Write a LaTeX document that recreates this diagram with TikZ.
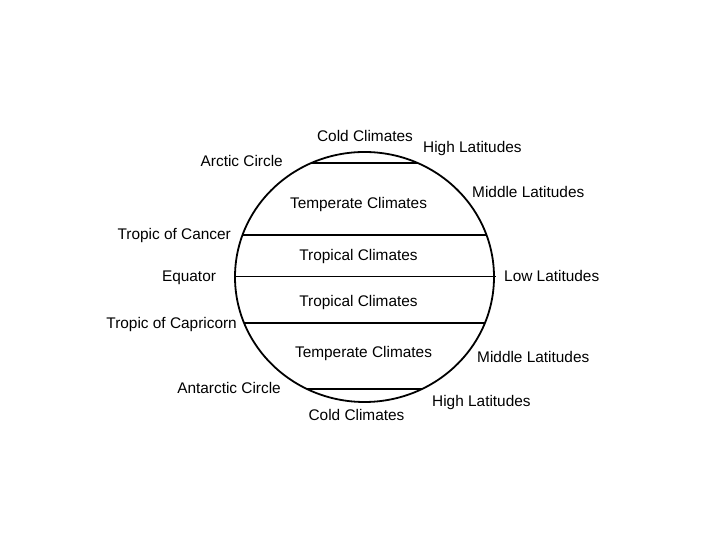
\documentclass[tikz,border=0pt]{standalone}
\usepackage{fontspec}
\setmainfont{Liberation Sans}
\usepackage{tikz}
\usetikzlibrary{positioning, calc}
\tikzset{
    zonelabel/.style={font=\fontsize{15.4}{18}\selectfont, inner sep=0pt},
    zoneline/.style={line width=1.8pt},
}

\begin{document}
\begin{tikzpicture}[x=1pt, y=1pt]
    \useasboundingbox (0,0) rectangle (720,540);
    \coordinate (globe) at (364.5,263);

    % Outline of the globe
    \draw [zoneline] (globe) ellipse [x radius=129.5pt, y radius=125pt];

    % Polar circles and tropics
    \coordinate (arcticW) at ($(globe)+(114.2:129.5pt and 125pt)$);
    \coordinate (arcticE) at ($(globe)+(65.8:129.5pt and 125pt)$);
    \coordinate (cancerW) at ($(globe)+(160.4:129.5pt and 125pt)$);
    \coordinate (cancerE) at ($(globe)+(19.6:129.5pt and 125pt)$);
    \coordinate (capriW) at ($(globe)+(201.6:129.5pt and 125pt)$);
    \coordinate (capriE) at ($(globe)+(-21.6:129.5pt and 125pt)$);
    \coordinate (antarcticW) at ($(globe)+(243.6:129.5pt and 125pt)$);
    \coordinate (antarcticE) at ($(globe)+(-63.6:129.5pt and 125pt)$);
    \draw [zoneline] (arcticW) -- (arcticE);
    \draw [zoneline] (cancerW) -- (cancerE);
    \draw [zoneline] (capriW) -- (capriE);
    \draw [zoneline] (antarcticW) -- (antarcticE);

    % Equator
    \coordinate (equatorW) at ($(globe)+(-129.5,0)$);
    \coordinate (equatorE) at ($(globe)+(131.5,0)$);
    \draw [line width=1pt] (equatorW) -- (equatorE);

    % Climate zones inside
    \node [zonelabel, anchor=base] (coldN) at (365,398) {Cold Climates};
    \node [zonelabel, anchor=base] (temperateN) at (358.5,331) {Temperate Climates};
    \node [zonelabel, anchor=base] (tropicalN) at (358.5,279) {Tropical Climates};
    \node [zonelabel, anchor=base] (tropicalS) at (358.5,233) {Tropical Climates};
    \node [zonelabel, anchor=base] (temperateS) at (363.5,182) {Temperate Climates};
    \node [zonelabel, anchor=base] (coldS) at (356.5,119) {Cold Climates};

    % Line names on the left
    \node [zonelabel, anchor=base east] (arctic) at (283,373) {Arctic Circle};
    \node [zonelabel, anchor=base east] (cancer) at (231,300) {Tropic of Cancer};
    \node [zonelabel, anchor=base] (equator) at (189,258) {Equator};
    \node [zonelabel, anchor=base east] (capricorn) at (237,211) {Tropic of Capricorn};
    \node [zonelabel, anchor=base east] (antarctic) at (281,146) {Antarctic Circle};

    % Latitudes on the right
    \node [zonelabel, anchor=base west] (highN) at (423,387) {High Latitudes};
    \node [zonelabel, anchor=base west] (middleN) at (472,342) {Middle Latitudes};
    \node [zonelabel, anchor=base west] (low) at (504,258) {Low Latitudes};
    \node [zonelabel, anchor=base west] (middleS) at (477,177) {Middle Latitudes};
    \node [zonelabel, anchor=base west] (highS) at (432,133) {High Latitudes};
\end{tikzpicture}
\end{document}
